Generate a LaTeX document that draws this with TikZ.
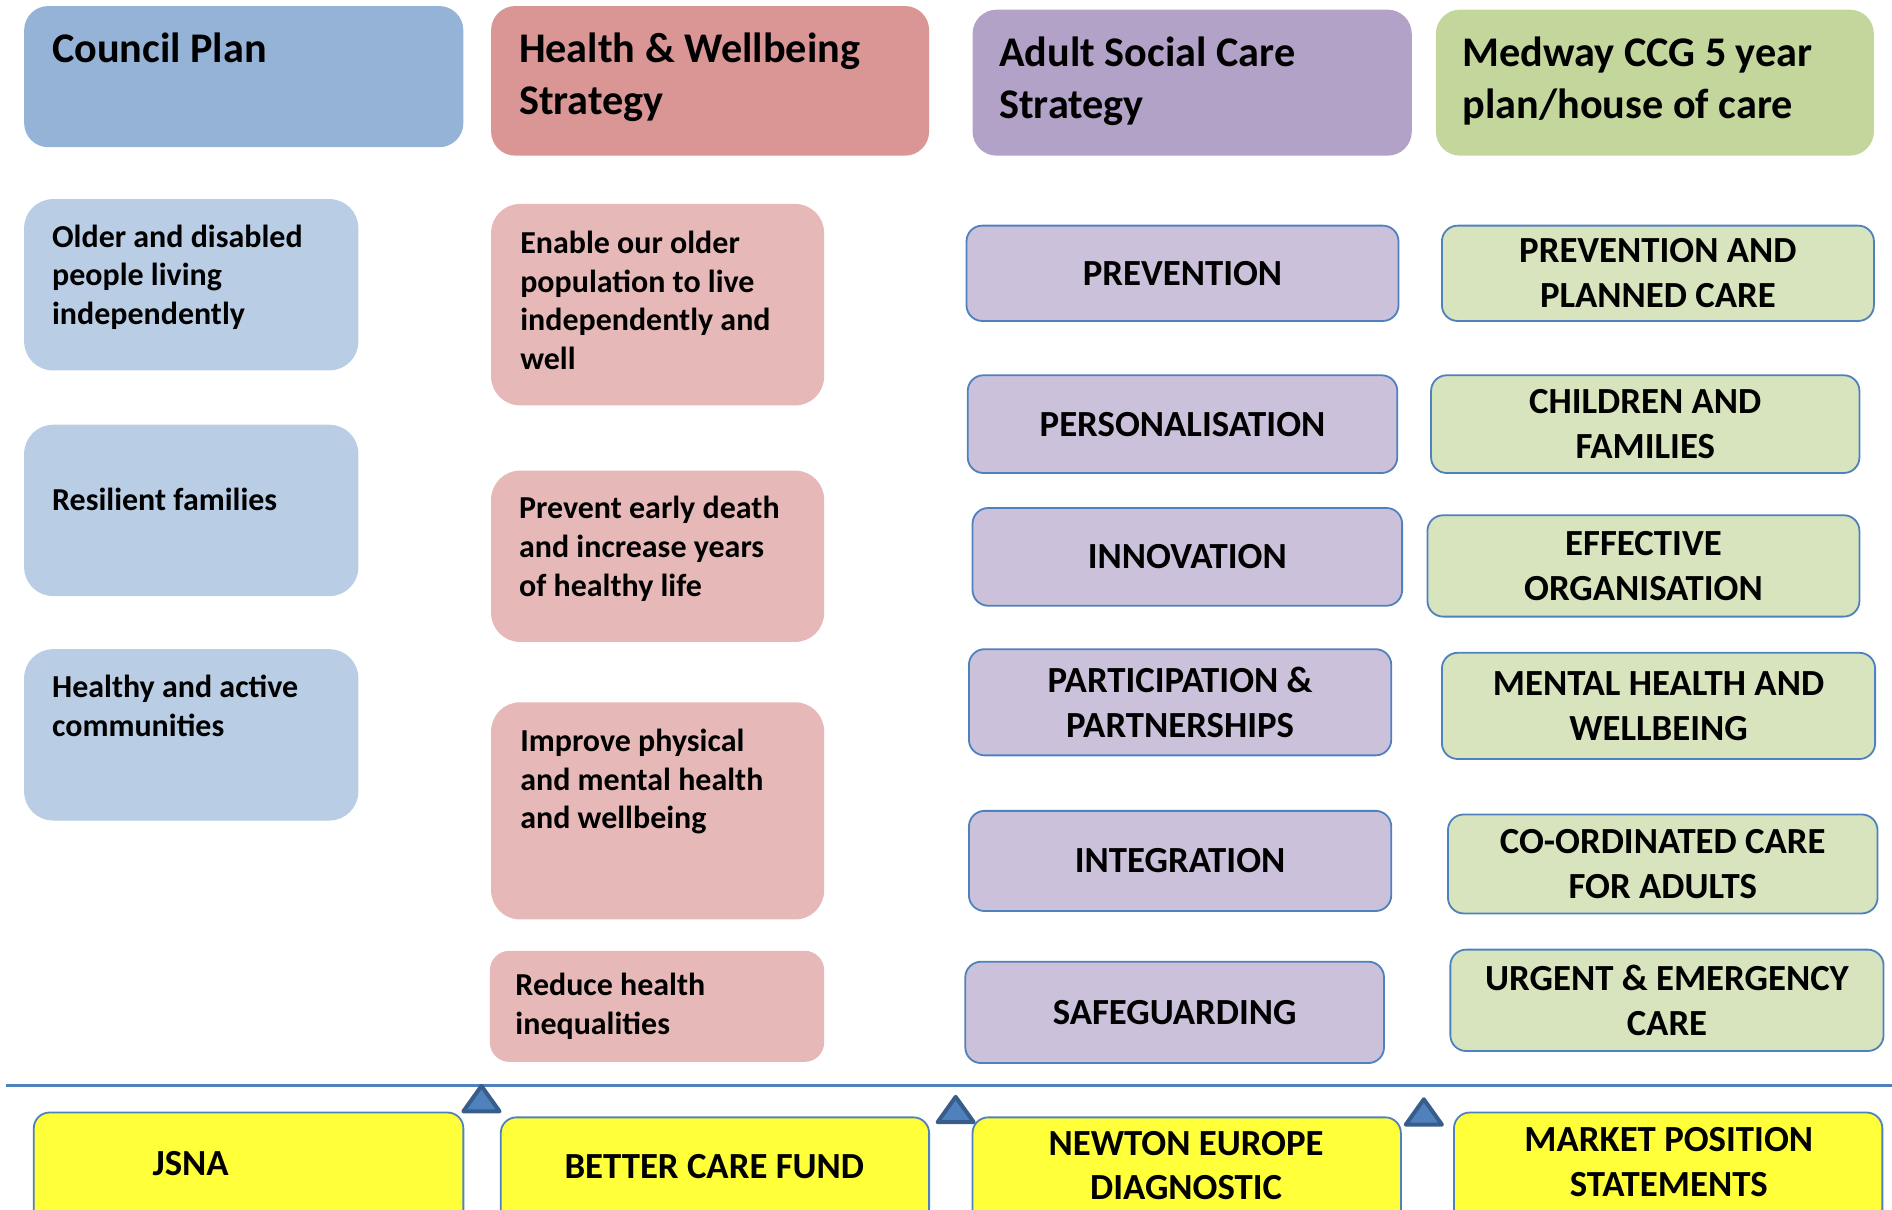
\documentclass[tikz,border=0pt]{standalone}
\usepackage{fontspec}
\setmainfont{Carlito}
\usetikzlibrary{calc}
\definecolor{hblue}{HTML}{95B3D7}
\definecolor{hred}{HTML}{D99694}
\definecolor{hpurple}{HTML}{B3A2C7}
\definecolor{hgreen}{HTML}{C3D69B}
\definecolor{lblue}{HTML}{B9CDE5}
\definecolor{lred}{HTML}{E6B9B8}
\definecolor{lpurple}{HTML}{CCC1DA}
\definecolor{lgreen}{HTML}{D7E4BD}
\definecolor{yel}{HTML}{FFFF3A}
\definecolor{edge}{HTML}{4F81BD}
\definecolor{dedge}{HTML}{385D8A}
\begin{document}
\begin{tikzpicture}[x=1pt,y=-1pt,
  base/.style={anchor=north west, inner sep=0pt, outer sep=0pt},
  hdr/.style={base, rounded corners=20pt, draw=none},
  softbox/.style={base, rounded corners=24pt, draw=none},
  capbox/.style={base, rounded corners=13pt, draw=edge, line width=1.5pt,
     align=center, font=\fontsize{30.5}{37}\selectfont\bfseries},
  yelbox/.style={base, rounded corners=13pt, draw=edge, line width=1.5pt, fill=yel,
     align=center, font=\fontsize{30.5}{37}\selectfont\bfseries},
  htxt/.style={anchor=base west, inner sep=0pt, font=\fontsize{35}{43}\selectfont\bfseries},
  btxt/.style={anchor=base west, inner sep=0pt, font=\fontsize{26.5}{32}\selectfont\bfseries},
  ytxt/.style={anchor=center, inner sep=0pt, align=center, font=\fontsize{30.5}{37}\selectfont\bfseries},
  tri/.style={fill=edge, draw=dedge, line width=3.3pt, line join=round}
]
\useasboundingbox (0,0) rectangle (1568,1002);
\clip (0,0) rectangle (1568,1002);

% ---- headers
\node[hdr, fill=hblue, minimum width=364pt, minimum height=117pt] (hcp) at (20,5) {};
\node[hdr, fill=hred, minimum width=363pt, minimum height=124pt] (hhw) at (407,5) {};
\node[hdr, fill=hpurple, minimum width=364pt, minimum height=121pt] (hasc) at (806,8) {};
\node[hdr, fill=hgreen, minimum width=363pt, minimum height=121pt] (hccg) at (1190,8) {};
\node[htxt] (thcp) at ($(hcp.north west)+(23,47)$) {\begin{tabular}[t]{@{}l@{}}Council Plan\end{tabular}};
\node[htxt] (thhw) at ($(hhw.north west)+(23,47)$) {\begin{tabular}[t]{@{}l@{}}Health \& Wellbeing\\Strategy\end{tabular}};
\node[htxt] (thasc) at ($(hasc.north west)+(22,47)$) {\begin{tabular}[t]{@{}l@{}}Adult Social Care\\Strategy\end{tabular}};
\node[htxt] (thccg) at ($(hccg.north west)+(22,47)$) {\begin{tabular}[t]{@{}l@{}}Medway CCG 5 year\\plan/house of care\end{tabular}};

% ---- column 1
\node[softbox, fill=lblue, minimum width=277pt, minimum height=142pt] (c1a) at (20,165) {};
\node[softbox, fill=lblue, minimum width=277pt, minimum height=142pt] (c1b) at (20,352) {};
\node[softbox, fill=lblue, minimum width=277pt, minimum height=142pt] (c1c) at (20,538) {};
\node[btxt] (tc1a) at ($(c1a.north west)+(23,40)$) {\begin{tabular}[t]{@{}l@{}}Older and disabled\\people living\\independently\end{tabular}};
\node[btxt] (tc1b) at ($(c1b.north west)+(23,71)$) {\begin{tabular}[t]{@{}l@{}}Resilient families\end{tabular}};
\node[btxt] (tc1c) at ($(c1c.north west)+(23,40)$) {\begin{tabular}[t]{@{}l@{}}Healthy and active\\communities\end{tabular}};

% ---- column 2
\node[softbox, fill=lred, minimum width=276pt, minimum height=167pt] (c2a) at (407,169) {};
\node[softbox, fill=lred, minimum width=276pt, minimum height=142pt] (c2b) at (407,390) {};
\node[softbox, fill=lred, minimum width=276pt, minimum height=180pt] (c2c) at (407,582) {};
\node[softbox, rounded corners=16pt, fill=lred, minimum width=277pt, minimum height=92pt] (c2d) at (406,788) {};
\node[btxt] (tc2a) at ($(c2a.north west)+(24,41)$) {\begin{tabular}[t]{@{}l@{}}Enable our older\\population to live\\independently and\\well\end{tabular}};
\node[btxt] (tc2b) at ($(c2b.north west)+(23,40)$) {\begin{tabular}[t]{@{}l@{}}Prevent early death\\and increase years\\of healthy life\end{tabular}};
\node[btxt] (tc2c) at ($(c2c.north west)+(24,41)$) {\begin{tabular}[t]{@{}l@{}}Improve physical\\and mental health\\and wellbeing\end{tabular}};
\node[btxt] (tc2d) at ($(c2d.north west)+(21,37)$) {\begin{tabular}[t]{@{}l@{}}Reduce health\\inequalities\end{tabular}};

% ---- column 3
\node[capbox, fill=lpurple, minimum width=358pt, minimum height=79pt] (c3a) at (801,187) {PREVENTION};
\node[capbox, fill=lpurple, minimum width=356pt, minimum height=81pt] (c3b) at (802,311) {PERSONALISATION};
\node[capbox, fill=lpurple, minimum width=356pt, minimum height=81pt] (c3c) at (806,421) {INNOVATION};
\node[capbox, fill=lpurple, minimum width=350pt, minimum height=88pt] (c3d) at (803,538) {PARTICIPATION \&\\PARTNERSHIPS};
\node[capbox, fill=lpurple, minimum width=350pt, minimum height=83pt] (c3e) at (803,672) {INTEGRATION};
\node[capbox, fill=lpurple, minimum width=347pt, minimum height=84pt] (c3f) at (800,797) {SAFEGUARDING};

% ---- column 4
\node[capbox, fill=lgreen, minimum width=358pt, minimum height=79pt] (c4a) at (1195,187) {PREVENTION AND\\PLANNED CARE};
\node[capbox, fill=lgreen, minimum width=355pt, minimum height=81pt] (c4b) at (1186,311) {CHILDREN AND\\FAMILIES};
\node[capbox, fill=lgreen, minimum width=358pt, minimum height=84pt] (c4c) at (1183,427) {EFFECTIVE\\ORGANISATION};
\node[capbox, fill=lgreen, minimum width=359pt, minimum height=88pt] (c4d) at (1195,541) {MENTAL HEALTH AND\\WELLBEING};
\node[capbox, fill=lgreen, minimum width=356pt, minimum height=82pt] (c4e) at (1200,675) {CO-ORDINATED CARE\\FOR ADULTS};
\node[capbox, fill=lgreen, minimum width=359pt, minimum height=84pt] (c4f) at (1202,787) {URGENT \& EMERGENCY\\CARE};

% ---- divider line
\coordinate (lineL) at (5,900);
\coordinate (lineR) at (1568,900);
\draw[edge, line width=2.5pt] (lineL) -- (lineR);

% ---- bottom boxes
\node[yelbox, minimum width=356pt, minimum height=100pt] (b1) at (28,922) {};
\node[ytxt] (tb1) at (158,964) {JSNA};
\node[yelbox, minimum width=355pt, minimum height=100pt] (b2) at (415,926) {};
\node[ytxt] (tb2) at (592,967) {BETTER CARE FUND};
\node[yelbox, minimum width=355pt, minimum height=100pt] (b3) at (806,926) {};
\node[ytxt] (tb3) at (983,966) {NEWTON EUROPE\\DIAGNOSTIC};
\node[yelbox, minimum width=355pt, minimum height=100pt] (b4) at (1205,922) {};
\node[ytxt] (tb4) at (1383,963) {MARKET POSITION\\STATEMENTS};

% ---- triangles
\draw[tri] (384,921) -- (399,900) -- (414,921) -- cycle;
\draw[tri] (777,930) -- (792,909) -- (807,930) -- cycle;
\draw[tri] (1165,932) -- (1180,911) -- (1195,932) -- cycle;
\end{tikzpicture}
\end{document}
